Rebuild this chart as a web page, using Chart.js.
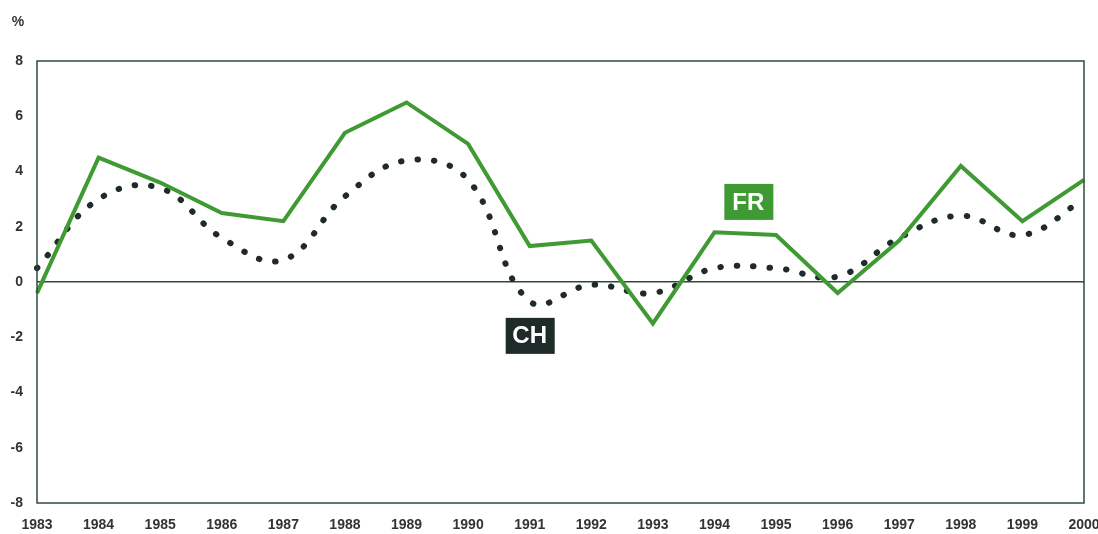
<!DOCTYPE html>
<html>
<head>
<meta charset="utf-8">
<script src="https://cdn.jsdelivr.net/npm/chart.js@4/dist/chart.umd.min.js"></script>
<style>
  html, body { margin: 0; padding: 0; background: #fff; }
  #wrap { width: 1098px; height: 534px; }
</style>
</head>
<body>
<div id="wrap"><canvas id="myChart" width="1098" height="534"></canvas></div>
<script>
  // years on the x axis
  const years = ['1983','1984','1985','1986','1987','1988','1989','1990','1991',
                 '1992','1993','1994','1995','1996','1997','1998','1999','2000'];

  // FR, solid green
  const frValues = [-0.4, 4.5, 3.6, 2.5, 2.2, 5.4, 6.5, 5.0, 1.3,
                    1.5, -1.5, 1.8, 1.7, -0.4, 1.5, 4.2, 2.2, 3.7];

  // CH, dotted dark
  const chValues = [0.5, 3.0, 3.4, 1.6, 0.8, 3.1, 4.4, 3.7, -0.7,
                    -0.1, -0.4, 0.5, 0.5, 0.2, 1.6, 2.4, 1.7, 3.0];

  const yTicks = [-8, -6, -4, -2, 0, 2, 4, 6, 8];

  const green = '#3f9a34';
  const dark = '#1f2b28';
  const axisColor = '#2e4a3c';

  // boxed labels + frame + % sign
  const decor = {
    id: 'decor',
    afterDraw(chart) {
      const { ctx, chartArea: { top, right, bottom, left }, scales: { x, y } } = chart;
      ctx.save();
      ctx.strokeStyle = axisColor;
      ctx.lineWidth = 1.5;
      ctx.strokeRect(left, top, right - left, bottom - top);

      ctx.font = 'bold 14px "Liberation Sans", Arial, sans-serif';
      ctx.fillStyle = '#333';
      ctx.textAlign = 'center';
      ctx.textBaseline = 'middle';
      ctx.fillText('%', 18, 22);

      function tag(text, xv, yv, bg) {
        const cx = x.getPixelForValue(xv);
        const cy = y.getPixelForValue(yv);
        ctx.fillStyle = bg;
        ctx.fillRect(cx - 24, cy - 18, 49, 36);
        ctx.fillStyle = '#fff';
        ctx.font = 'bold 24px "Liberation Sans", Arial, sans-serif';
        ctx.fillText(text, cx, cy + 1);
      }
      tag('FR', 11.55, 2.9, green);
      tag('CH', 8.0, -1.95, dark);
      ctx.restore();
    }
  };

  const config = {
    type: 'line',
    data: {
      labels: years,
      datasets: [{
        label: 'FR',
        data: frValues,
        borderColor: green,
        borderWidth: 4,
        pointRadius: 0,
        tension: 0,
        fill: false
      }, {
        label: 'CH',
        data: chValues,
        borderColor: dark,
        borderWidth: 6,
        borderDash: [0.5, 16],
        borderCapStyle: 'round',
        pointRadius: 0,
        tension: 0.4,
        fill: false
      }]
    },
    options: {
      responsive: false,
      animation: false,
      layout: { padding: { top: 61, right: 14, left: 0, bottom: 0 } },
      plugins: {
        legend: { display: false },
        tooltip: { enabled: false }
      },
      scales: {
        x: {
          offset: false,
          grid: { display: false },
          border: { display: false },
          ticks: {
            color: '#333',
            font: { size: 14, weight: 'bold', family: '"Liberation Sans", Arial, sans-serif' },
            maxRotation: 0,
            autoSkip: false,
            padding: 6
          },
          afterFit(scale) {
            scale.height = 31;
            scale.paddingRight = 0;
            scale.paddingLeft = 0;
          }
        },
        y: {
          min: -8,
          max: 8,
          afterBuildTicks(scale) { scale.ticks = yTicks.map(v => ({ value: v })); },
          grid: {
            drawTicks: false,
            color: ctx => ctx.tick && ctx.tick.value === 0 ? axisColor : 'rgba(0,0,0,0)',
            lineWidth: 1.5
          },
          border: { display: false },
          ticks: {
            color: '#333',
            font: { size: 14, weight: 'bold', family: '"Liberation Sans", Arial, sans-serif' },
            padding: 14
          },
          afterFit(scale) { scale.width = 37; }
        }
      }
    },
    plugins: [decor]
  };

  const myChart = new Chart(document.getElementById('myChart'), config);
</script>
</body>
</html>
